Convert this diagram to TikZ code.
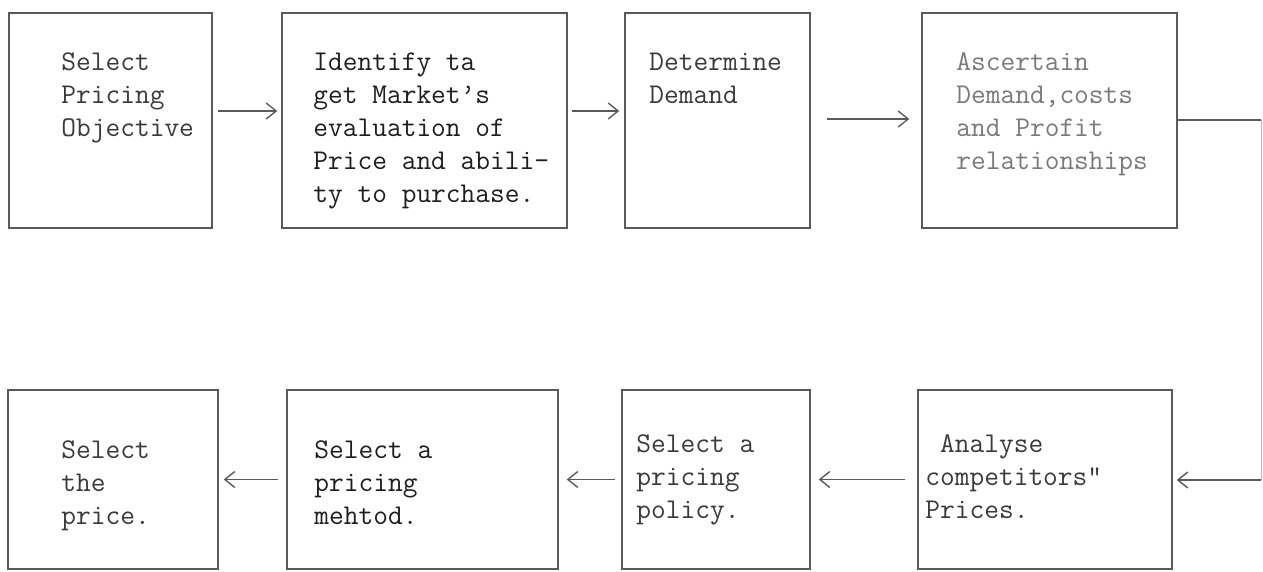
\documentclass[tikz,border=0pt]{standalone}
\usetikzlibrary{arrows.meta}
\definecolor{boxline}{HTML}{5A5A5A}
\definecolor{txtA}{HTML}{3A3A3A}
\definecolor{txtB}{HTML}{1E1E1E}
\definecolor{txtC}{HTML}{7A7A7A}
\definecolor{faint}{HTML}{B8B8B8}
\tikzset{
  stepbox/.style={draw=boxline, line width=0.7pt, inner sep=0pt, fill=none},
  steptext/.style={anchor=north west, inner sep=0pt, align=left, text=txtA,
    font={\fontsize{14.3pt}{16.5pt}\selectfont\ttfamily}},
  arr/.style={draw=boxline, line width=0.7pt, -{Straight Barb[length=5pt,width=8pt]}},
  link/.style={draw=boxline, line width=0.7pt}
}
\begin{document}
\begin{tikzpicture}[x=0.5pt,y=-0.5pt]
\useasboundingbox (0,0) rectangle (1263,572);
\fill[white] (0,0) rectangle (1263,572);
% top row boxes
\node[stepbox, minimum width=101.5pt, minimum height=107.5pt] (b1) at (110.5,120.5) {};
\node[stepbox, minimum width=142.5pt, minimum height=107.5pt] (b2) at (424.5,120.5) {};
\node[stepbox, minimum width=92.5pt,  minimum height=107.5pt] (b3) at (717.5,120.5) {};
\node[stepbox, minimum width=127.5pt, minimum height=107.5pt] (b4) at (1049.5,120.5) {};
% bottom row boxes
\node[stepbox, minimum width=105pt,   minimum height=89.5pt] (c1) at (113,479.5) {};
\node[stepbox, minimum width=135.5pt, minimum height=89.5pt] (c2) at (422.5,479.5) {};
\node[stepbox, minimum width=94pt,    minimum height=89.5pt] (c3) at (716,479.5) {};
\node[stepbox, minimum width=127pt,   minimum height=89.5pt] (c4) at (1045,479.5) {};
% texts top row
\node[steptext] (t1) at (61,47) {\strut Select\\Pricing\\Objective};
\node[steptext, text=txtB] (t2) at (313,47) {\strut Identify ta\\get Market’s\\evaluation of\\Price and abili-\\ty to purchase.};
\node[steptext] (t3) at (649,47) {\strut Determine\\Demand};
\node[steptext, text=txtC] (t4) at (956,47) {\strut Ascertain\\Demand,costs\\and Profit\\relationships};
% texts bottom row
\node[steptext] (u1) at (61,435) {\strut Select\\the\\price.};
\node[steptext, text=txtB] (u2) at (314,435) {\strut Select a\\pricing\\mehtod.};
\node[steptext] (u3) at (636,429) {\strut Select a\\pricing\\policy.};
\node[steptext] (u4) at (925,429) {\strut \hphantom{A}Analyse\\competitors"\\Prices.};
% top arrows
\draw[arr, shorten <=2.5pt, shorten >=2pt] ([yshift=4.75pt]b1.east) -- ([yshift=4.75pt]b2.west);
\draw[arr, shorten <=2pt, shorten >=2.5pt] ([yshift=4.75pt]b2.east) -- ([yshift=4.75pt]b3.west);
\draw[arr, shorten <=8pt, shorten >=6pt] ([yshift=0.75pt]b3.east) -- ([yshift=0.75pt]b4.west);
% right return connector
\coordinate (r1) at (1261,120);
\coordinate (r2) at (1261,480);
\draw[link] (b4.east |- r1) -- (r1);
\draw[draw=faint, line width=0.5pt] (r1) -- (r2);
\draw[arr, shorten >=2pt] (r2) -- (c4.east |- r2);
% bottom arrows
\draw[arr, shorten <=6pt, shorten >=4pt] (c4.west) -- (c3.east);
\draw[arr, shorten <=3pt, shorten >=4pt] (c3.west) -- (c2.east);
\draw[arr, shorten <=4pt, shorten >=2.5pt] (c2.west) -- (c1.east);
\end{tikzpicture}
\end{document}
